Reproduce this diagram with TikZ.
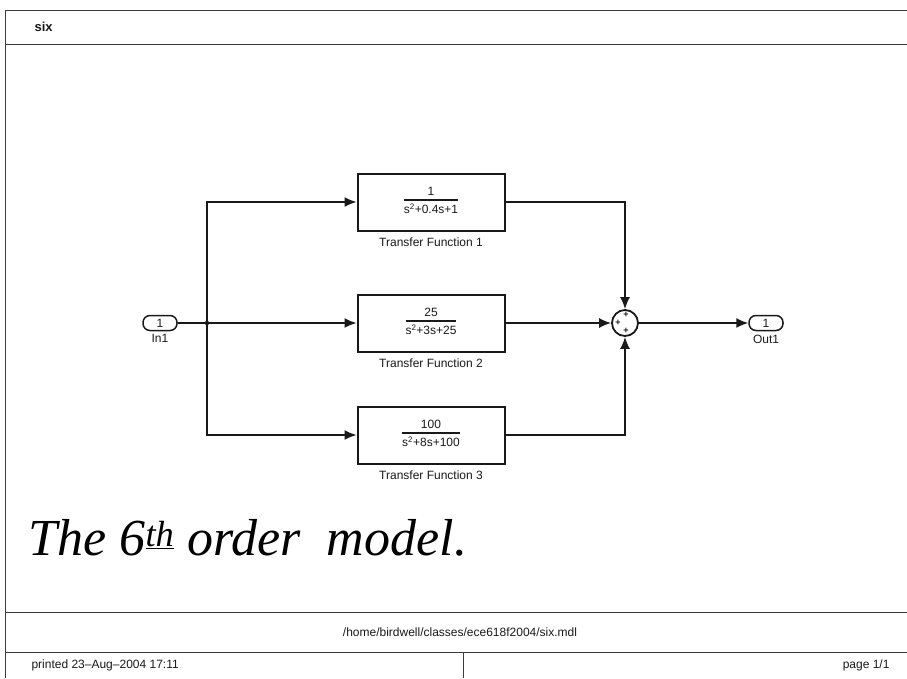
\documentclass[tikz,border=0pt]{standalone}
\usepackage{fontspec}
\setmainfont{Liberation Sans}
\newfontfamily\handfont{Liberation Serif}
\usetikzlibrary{arrows.meta}
\definecolor{inkBlack}{RGB}{25,25,25}
\definecolor{frameGray}{RGB}{60,60,60}
\setlength{\arrayrulewidth}{1.5pt}
\newcommand{\tffrac}[2]{\begin{tabular}{@{}c@{}}#1\\[-1pt]\hline\rule{0pt}{13pt}#2\end{tabular}}

\begin{document}
\begin{tikzpicture}[x=1pt,y=-1pt]
\tikzstyle{every node}=[font=\fontsize{12}{14}\selectfont, text=inkBlack]
\tikzstyle{tfblock}=[draw=inkBlack, line width=2pt, minimum width=147pt, minimum height=57pt, inner sep=0pt]
\tikzstyle{port}=[draw=inkBlack, line width=1.5pt, rounded corners=7pt, minimum width=34pt, minimum height=15pt, inner sep=0pt]
\tikzstyle{sig}=[draw=inkBlack, line width=1.5pt, -{Latex[length=12pt,width=10pt]}]
\tikzstyle{frameline}=[draw=frameGray, line width=1pt]

  \useasboundingbox (0,0) rectangle (907,678);

  % page frame
  \draw[frameline] (907,10) -- (5,10) -- (5,678);
  \draw[frameline] (5,44) -- (907,44);
  \draw[frameline] (5,612) -- (907,612);
  \draw[frameline] (5,652) -- (907,652);
  \draw[frameline] (463,652) -- (463,678);

  \node[anchor=west, font=\fontsize{13}{14}\selectfont\bfseries] (title) at (31,27) {six};
  \node (path) at (460,632) {/home/birdwell/classes/ece618f2004/six.mdl};
  \node[anchor=west] (printed) at (28,665) {printed 23--Aug--2004 17:11};
  \node[anchor=east] (page) at (893,665) {page 1/1};

  % blocks
  \node[port] (in1) at (160,323) {1};
  \node (in1lbl) at (160,338) {In1};
  \node[tfblock] (tf1) at (431,202) {\tffrac{1}{s\textsuperscript{2}+0.4s+1}};
  \node (tf1lbl) at (431,242) {Transfer Function 1};
  \node[tfblock] (tf2) at (431,323) {\tffrac{25}{s\textsuperscript{2}+3s+25}};
  \node (tf2lbl) at (431,363) {Transfer Function 2};
  \node[tfblock] (tf3) at (431,435) {\tffrac{100}{s\textsuperscript{2}+8s+100}};
  \node (tf3lbl) at (431,475) {Transfer Function 3};
  \node[circle, draw=inkBlack, line width=1.8pt, minimum size=26pt, inner sep=0pt] (sum) at (625,323) {};
  \node[font=\fontsize{9}{9}\selectfont\bfseries] (plusl) at (618,323) {+};
  \node[font=\fontsize{9}{9}\selectfont\bfseries] (plust) at (626,315) {+};
  \node[font=\fontsize{9}{9}\selectfont\bfseries] (plusb) at (626,331) {+};
  \node[port] (out1) at (766,323) {1};
  \node (out1lbl) at (766,339) {Out1};

  % signals
  \coordinate (split) at (207,323);
  \fill[inkBlack] (split) circle (2.2pt);
  \draw[sig] (in1) -- (tf2);
  \draw[sig] (split) |- (tf1.west);
  \draw[sig] (split) |- (tf3.west);
  \draw[sig] (tf1.east) -| (sum.north);
  \draw[sig] (tf2) -- (sum);
  \draw[sig] (tf3.east) -| (sum.south);
  \draw[sig] (sum) -- (out1);

  % note
  \node[anchor=west, font=\handfont\itshape\fontsize{52}{56}\selectfont, text=black] (note) at (25,538) {The 6\textsuperscript{\underline{th}} order\ \ model.};

\end{tikzpicture}
\end{document}
